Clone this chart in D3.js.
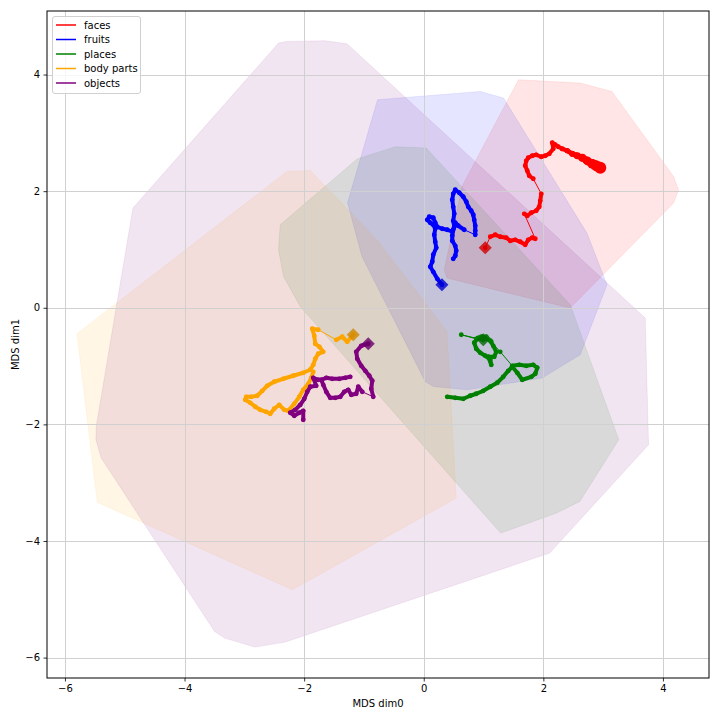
<!DOCTYPE html>
<html>
<head>
<meta charset="utf-8">
<script src="https://cdn.jsdelivr.net/npm/d3@7"></script>
<style>
  body { margin: 0; background: #fff; }
  svg { display: block; }
  text { font-family: "DejaVu Sans", sans-serif; font-size: 10px; fill: #000; }
</style>
</head>
<body>
<svg id="chart" width="720" height="720"></svg>
<script>

var categories = ['faces', 'fruits', 'places', 'body parts', 'objects'];
var colors = ['red', 'blue', 'green', 'orange', 'purple'];
var xTicks = [-6, -4, -2, 0, 2, 4];
var yTicks = [-6, -4, -2, 0, 2, 4];

// convex hulls (MDS dim0, dim1)
var facesHull = [[1.585,3.911],[2.617,3.854],[3.147,3.710],[4.177,2.252],[4.261,2.024],[4.177,1.796],
  [2.450,-0.005],[0.388,0.509],[0.343,0.652],[0.639,2.081]];
var fruitsHull = [[-0.773,3.568],[0.945,3.710],[1.334,3.597],[2.729,1.281],[3.064,0.395],[2.617,-0.806],
  [1.977,-1.206],[0.722,-1.407],[0.164,-1.350],[0.025,-1.264],[-1.033,0.880],[-1.274,1.801]];
var placesHull = [[-2.400,1.424],[-1.117,2.551],[-0.477,2.762],[0.042,2.739],[2.450,0.051],[3.261,-2.264],
  [2.610,-3.322],[2.222,-3.521],[1.286,-3.865],[-2.065,0.022],[-2.344,0.537],[-2.428,0.995]];
var bodyHull = [[-5.799,-0.446],[-2.288,2.338],[-1.898,2.355],[-0.783,1.166],[0.388,-0.407],[0.443,-1.407],
  [0.543,-3.264],[-2.197,-4.837],[-5.460,-3.336]];
var objectsHull = [[-4.863,1.710],[-2.428,4.540],[-2.288,4.568],[-1.647,4.580],[-1.284,4.528],[3.704,-0.177],
  [3.759,-2.350],[2.104,-4.208],[-2.316,-5.734],[-2.824,-5.820],[-3.331,-5.665],[-3.498,-5.552],
  [-5.393,-2.578],[-5.482,-2.264],[-5.477,-2.036]];

// trajectories, first point = start (diamond)
var facesPath = [[1.028,1.029],[1.112,1.218],[1.196,1.252],[1.279,1.218],[1.380,1.201],[1.446,1.149],
  [1.530,1.166],[1.614,1.132],[1.697,1.081],[1.747,1.166],[1.814,1.201],[1.865,1.184],
  [1.681,1.612],[1.731,1.578],[1.798,1.630],[1.881,1.664],[1.931,1.732],[1.948,1.835],[1.965,1.955],
  [1.831,2.213],[1.764,2.264],[1.731,2.350],[1.697,2.436],[1.714,2.521],[1.747,2.573],[1.814,2.607],
  [1.881,2.624],[1.965,2.590],[2.032,2.607],[2.099,2.641],[2.166,2.727],[2.149,2.830],[2.199,2.796],
  [2.249,2.762],[2.316,2.727],[2.400,2.693],[2.483,2.641],[2.567,2.607],[2.651,2.573],[2.734,2.521],
  [2.818,2.470],[2.885,2.436],[2.952,2.401]];
var fruitsPath = [[0.304,0.395],[0.226,0.497],[0.159,0.617],[0.109,0.703],[0.142,0.789],[0.159,0.909],
  [0.209,1.029],[0.192,1.132],[0.176,1.252],[0.192,1.355],[0.159,1.424],[0.109,1.458],[0.059,1.509],
  [0.092,1.561],[0.159,1.544],[0.192,1.458],[0.226,1.389],[0.309,1.355],[0.393,1.338],[0.477,1.304],
  [0.510,1.389],[0.493,1.492],[0.510,1.612],[0.493,1.732],[0.477,1.852],[0.493,1.955],[0.527,2.024],
  [0.594,1.973],[0.661,1.904],[0.711,1.818],[0.744,1.732],[0.794,1.664],[0.828,1.595],[0.844,1.509],
  [0.861,1.407],[0.861,1.321],[0.861,1.252],[0.677,1.338],[0.577,1.407],[0.527,1.458],[0.493,1.338],
  [0.477,1.235],[0.477,1.149],[0.527,1.063],[0.543,0.978],[0.527,0.892],[0.493,0.840]];
var placesPath = [[0.995,-0.549],[0.911,-0.515],[0.844,-0.600],[0.878,-0.703],[0.945,-0.772],[1.028,-0.823],
  [1.112,-0.892],[1.129,-0.978],[1.079,-0.840],[1.179,-0.840],[1.212,-0.755],[1.162,-0.652],[1.112,-0.566],
  [1.045,-0.497],[0.962,-0.497],[0.878,-0.532],[0.627,-0.463],[1.129,-0.583],[1.279,-0.755],[1.480,-0.995],
  [1.597,-0.978],[1.714,-0.995],[1.831,-0.978],[1.898,-1.029],[1.865,-1.132],[1.798,-1.184],[1.647,-1.235],
  [1.564,-1.115],[1.480,-1.012],[1.413,-1.081],[1.329,-1.184],[1.229,-1.286],[1.112,-1.355],[0.995,-1.424],
  [0.878,-1.475],[0.778,-1.509],[0.661,-1.561],[0.527,-1.544],[0.393,-1.527]];
var bodyPath = [[-1.179,-0.463],[-1.279,-0.583],[-1.363,-0.497],[-1.463,-0.549],[-1.764,-0.377],[-1.865,-0.360],
  [-1.831,-0.480],[-1.814,-0.617],[-1.747,-0.669],[-1.681,-0.755],[-1.764,-0.789],[-1.814,-0.875],
  [-1.848,-0.978],[-1.898,-1.063],[-2.015,-1.115],[-2.182,-1.166],[-2.349,-1.218],[-2.500,-1.269],
  [-2.617,-1.338],[-2.701,-1.424],[-2.784,-1.509],[-2.885,-1.527],[-2.968,-1.527],[-2.985,-1.578],
  [-2.901,-1.630],[-2.818,-1.698],[-2.734,-1.750],[-2.634,-1.784],[-2.567,-1.818],[-2.500,-1.732],
  [-2.416,-1.664],[-2.333,-1.750],[-2.266,-1.767],[-2.166,-1.647],[-2.082,-1.527],[-2.015,-1.407],
  [-1.931,-1.304],[-1.881,-1.201],[-1.848,-1.098]];
var objectsPath = [[-0.928,-0.617],[-1.045,-0.652],[-1.129,-0.755],[-1.112,-0.875],[-1.045,-0.995],
  [-0.978,-1.081],[-0.911,-1.166],[-0.861,-1.252],[-0.878,-1.389],[-0.844,-1.527],[-1.028,-1.441],
  [-1.095,-1.355],[-1.129,-1.475],[-1.212,-1.492],[-1.263,-1.407],[-1.329,-1.441],[-1.396,-1.527],
  [-1.480,-1.544],[-1.564,-1.544],[-1.630,-1.441],[-1.681,-1.321],[-1.714,-1.235],[-1.630,-1.201],
  [-1.530,-1.218],[-1.413,-1.218],[-1.313,-1.201],[-1.229,-1.184],[-1.764,-1.235],[-1.848,-1.201],
  [-1.798,-1.338],[-1.898,-1.355],[-1.948,-1.441],[-1.998,-1.561],[-2.065,-1.664],[-2.149,-1.750],
  [-2.232,-1.801],[-2.166,-1.852],[-2.082,-1.801],[-2.015,-1.767],[-2.015,-1.921]];

var hulls = [facesHull, fruitsHull, placesHull, bodyHull, objectsHull];
var paths = [facesPath, fruitsPath, placesPath, bodyPath, objectsPath];

function drawChart() {
  var svg = d3.select('#chart');
  var mLeft = 47, mRight = 709, mTop = 11, mBottom = 678;
  var baseR = 2.4;
  var endR = [6, baseR, baseR, baseR, baseR]; // faces trail ends in a heavy blob

  var x = d3.scaleLinear().domain([-6.3, 4.77]).range([mLeft, mRight]);
  var y = d3.scaleLinear().domain([-6.35, 5.09]).range([mBottom, mTop]);

  svg.append('defs').append('clipPath').attr('id', 'plot-clip')
    .append('rect').attr('x', mLeft).attr('y', mTop).attr('width', mRight - mLeft).attr('height', mBottom - mTop);

  var plot = svg.append('g').attr('clip-path', 'url(#plot-clip)');

  var hullLine = d3.line()
    .x(function(d) { return x(d[0]); })
    .y(function(d) { return y(d[1]); })
    .curve(d3.curveLinearClosed);

  plot.selectAll('.hull')
    .data(hulls)
    .enter().append('path')
    .attr('class', 'hull')
    .attr('d', hullLine)
    .attr('fill', function(d, i) { return colors[i]; })
    .attr('fill-opacity', 0.1)
    .attr('stroke', function(d, i) { return colors[i]; })
    .attr('stroke-opacity', 0.08)
    .attr('stroke-width', 1);

  // grid
  plot.selectAll('.gx').data(xTicks).enter().append('line')
    .attr('x1', function(d) { return Math.round(x(d)) + 0.5; }).attr('x2', function(d) { return Math.round(x(d)) + 0.5; })
    .attr('y1', mTop).attr('y2', mBottom)
    .attr('stroke', '#d0d0d0').attr('stroke-width', 1);
  plot.selectAll('.gy').data(yTicks).enter().append('line')
    .attr('y1', function(d) { return Math.round(y(d)) + 0.5; }).attr('y2', function(d) { return Math.round(y(d)) + 0.5; })
    .attr('x1', mLeft).attr('x2', mRight)
    .attr('stroke', '#d0d0d0').attr('stroke-width', 1);

  // trajectories
  paths.forEach(function(pts, i) {
    var n = pts.length;
    var radius = function(k) {
      var t = Math.max(0, (k - (n - 10)) / 9);
      return baseR + (endR[i] - baseR) * Math.pow(t, 1.5);
    };
    var g = plot.append('g');
    var segs = d3.pairs(pts).map(function(p, k) { return { a: p[0], b: p[1], k: k }; });
    g.selectAll('line').data(segs).enter().append('line')
      .attr('x1', function(d) { return x(d.a[0]); })
      .attr('y1', function(d) { return y(d.a[1]); })
      .attr('x2', function(d) { return x(d.b[0]); })
      .attr('y2', function(d) { return y(d.b[1]); })
      .attr('stroke', colors[i])
      .attr('stroke-linecap', 'round')
      .attr('stroke-width', function(d) {
        var dx = x(d.b[0]) - x(d.a[0]), dy = y(d.b[1]) - y(d.a[1]);
        return Math.sqrt(dx * dx + dy * dy) < 10.5 ? 2 * radius(d.k) - 0.8 : 1;
      });
    g.selectAll('circle').data(pts).enter().append('circle')
      .attr('cx', function(d) { return x(d[0]); })
      .attr('cy', function(d) { return y(d[1]); })
      .attr('r', function(d, k) { return radius(k); })
      .attr('fill', colors[i]);
  });

  // start markers
  plot.selectAll('.start')
    .data(paths)
    .enter().append('path')
    .attr('class', 'start')
    .attr('d', d3.symbol(d3.symbolSquare, 85))
    .attr('transform', function(d) { return 'translate(' + x(d[0][0]) + ',' + y(d[0][1]) + ') rotate(45)'; })
    .attr('fill', function(d, i) { return d3.interpolateRgb(colors[i], '#000')(0.18); })
    .attr('fill-opacity', 0.8);

  // axes
  var xAxis = svg.append('g').attr('transform', 'translate(0,' + mBottom + ')')
    .call(d3.axisBottom(x).tickValues(xTicks).tickSize(3.5).tickPadding(3.5).tickFormat(d3.format('')));
  var yAxis = svg.append('g').attr('transform', 'translate(' + mLeft + ',0)')
    .call(d3.axisLeft(y).tickValues(yTicks).tickSize(3.5).tickPadding(3.5).tickFormat(d3.format('')));
  [xAxis, yAxis].forEach(function(a) {
    a.select('.domain').remove();
    a.selectAll('text').style('font-family', '"DejaVu Sans", sans-serif').style('font-size', '10px').attr('fill', '#000');
    a.selectAll('line').attr('stroke', '#000').attr('stroke-width', 0.8);
  });

  svg.append('rect')
    .attr('x', mLeft).attr('y', mTop).attr('width', mRight - mLeft).attr('height', mBottom - mTop)
    .attr('fill', 'none').attr('stroke', '#000').attr('stroke-width', 1);

  svg.append('text').attr('x', (mLeft + mRight) / 2).attr('y', 707)
    .attr('text-anchor', 'middle').text('MDS dim0');
  svg.append('text').attr('transform', 'translate(19,' + (mTop + mBottom) / 2 + ') rotate(-90)')
    .attr('text-anchor', 'middle').text('MDS dim1');

  // legend
  var legend = svg.append('g');
  legend.append('rect')
    .attr('x', 52.5).attr('y', 16.5).attr('width', 88).attr('height', 77).attr('rx', 2.5)
    .attr('fill', '#fff').attr('fill-opacity', 0.8).attr('stroke', '#d0d0d0');
  var item = legend.selectAll('.item').data(categories).enter().append('g')
    .attr('transform', function(d, i) { return 'translate(0,' + (25 + i * 14.5) + ')'; });
  item.append('line').attr('x1', 56).attr('x2', 76).attr('y1', 0).attr('y2', 0)
    .attr('stroke', function(d, i) { return colors[i]; }).attr('stroke-width', 1.5);
  item.append('text').attr('x', 84).attr('y', 3.6).text(function(d) { return d; });
}

drawChart();

</script>
</body>
</html>
